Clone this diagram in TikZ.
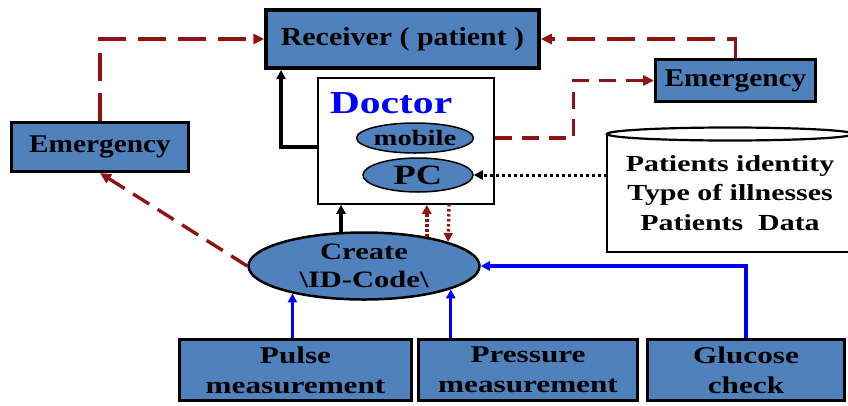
\documentclass[tikz,border=0pt]{standalone}
\usepackage{fontspec}
\setmainfont{Liberation Serif}
\newfontfamily\fw[FakeStretch=1.3]{Liberation Serif}
\newfontfamily\fe[FakeStretch=1.15]{Liberation Serif}
\usetikzlibrary{shapes.geometric,arrows.meta}
\definecolor{boxblue}{HTML}{4F81BD}
\definecolor{dred}{HTML}{8E1414}
\begin{document}
\begin{tikzpicture}[x=1pt,y=-1pt,
  bbox/.style={rectangle,draw=black,fill=boxblue,line width=3pt,inner sep=0pt,align=center},
  ell/.style={ellipse,draw=black,fill=boxblue,inner sep=0pt,align=center},
  tip/.style={-{Triangle[length=11pt,width=10pt]}},
  stip/.style={-{Triangle[length=9pt,width=9pt]}},
  redlong/.style={draw=dred,line width=3.4pt,dash pattern=on 28pt off 12pt,tip},
  redshort/.style={draw=dred,line width=3.4pt,dash pattern=on 17pt off 10pt,tip},
  reddot/.style={draw=dred,line width=3.4pt,dash pattern=on 2.5pt off 2.5pt,stip},
  blackdot/.style={draw=black,line width=3pt,dash pattern=on 2.5pt off 3.5pt,stip},
  blk/.style={draw=black,line width=3.2pt,stip},
  blu/.style={draw=blue,line width=3.4pt,stip},
  fE/.style={font=\fe\bfseries\fontsize{#1}{#1}\selectfont},
  fW/.style={font=\fw\bfseries\fontsize{#1}{#1}\selectfont}
]
\useasboundingbox (0,0) rectangle (848,405);
\clip (0,0) rectangle (848,405);

% boxes
\node[bbox,line width=3.5pt,minimum width=273pt,minimum height=58pt,fE=26] (rc) at (402.5,39) {Receiver ( patient )};
\node[rectangle,draw=black,fill=white,line width=1.5pt,minimum width=176pt,minimum height=126pt] (doc) at (406,141) {};
\node[text=blue,fW=32,inner sep=0pt] (dt) at (391,103) {Doctor};
\node[ell,line width=1.5pt,minimum width=116pt,minimum height=30pt,fW=22] (mo) at (415,138) {mobile};
\node[ell,line width=1.5pt,minimum width=110pt,minimum height=34pt,fW=28] (pc) at (418,175) {PC};
\node[bbox,minimum width=177pt,minimum height=49pt,fE=25.5] (em1) at (100,147) {Emergency};
\node[bbox,minimum width=160pt,minimum height=42pt,fE=25.5] (em2) at (735.5,80.5) {Emergency};

% database cylinder
\draw[line width=2.2pt,fill=white] (607,134) -- (607,252) -- (853,252) -- (853,134);
\draw[line width=2.2pt,fill=white] (730,134) ellipse (123pt and 6.5pt);
\node[align=center,font=\fw\bfseries\fontsize{23}{29.5}\selectfont,inner sep=0pt,minimum width=246pt,minimum height=118pt] (db) at (730,193) {Patients identity\\Type of illnesses\\Patients\ \ Data};

\node[ell,line width=2.5pt,minimum width=231pt,minimum height=67pt,font=\fw\bfseries\fontsize{23.5}{28}\selectfont] (cr) at (364,266) {Create\\\textbackslash ID-Code\textbackslash};

\node[bbox,minimum width=232pt,minimum height=61pt,font=\fw\bfseries\fontsize{24}{30}\selectfont] (pu) at (295.5,370) {Pulse\\measurement};
\node[bbox,minimum width=219pt,minimum height=61pt,font=\fw\bfseries\fontsize{24}{30}\selectfont] (pr) at (528,370) {Pressure\\measurement};
\node[bbox,minimum width=197pt,minimum height=61pt,font=\fw\bfseries\fontsize{24}{30}\selectfont] (gl) at (746,370) {Glucose\\check};

% blue inputs
\draw[blu] (cr.201 |- pu.north) -- (cr.201);
\draw[blu] (cr.345 |- pr.north) -- (cr.345);
\draw[blu] (gl.north) |- (cr.east);

% black
\draw[blk] (cr.124) -- (cr.124 |- doc.south);
\coordinate (dl) at (318,147);
\coordinate (rin) at (281,70);
\draw[blk] (dl) -| (rin);

% red dotted pair
\draw[reddot] (cr.25) -- (cr.25 |- doc.south);
\coordinate (dd) at (449,204);
\draw[reddot] (dd) -- (cr.16);

% black dotted from db
\draw[blackdot] (pc.east -| db.west) -- (pc.east);

% red dashed
\draw[redshort] (doc.east |- mo.center) -- ++(79,0) |- (em2.west);
\draw[redlong] (em2.north) |- (rc.east);
\draw[redlong] (em1.north) |- (rc.west);
\draw[redshort,dash pattern=on 19pt off 10pt] (cr.west) -- (em1.south);
\end{tikzpicture}
\end{document}
